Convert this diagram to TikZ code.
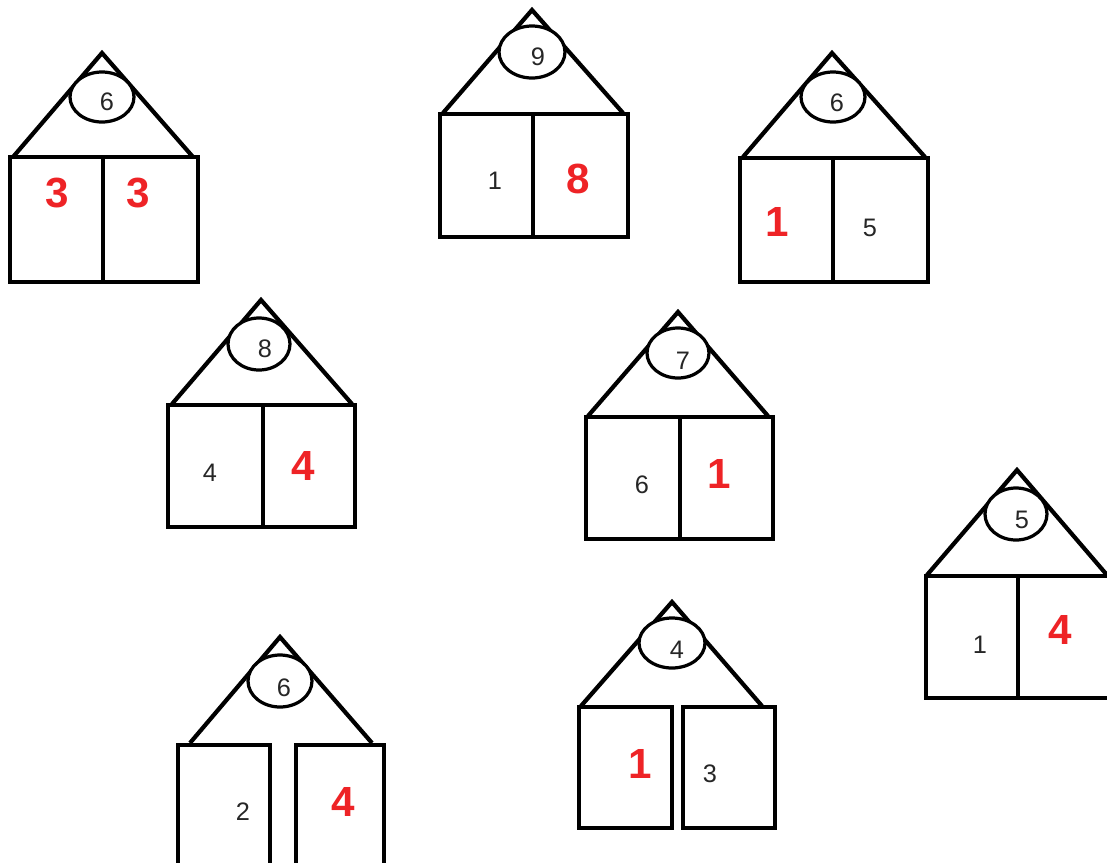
\documentclass[tikz,border=0pt]{standalone}
\usepackage{fontspec}
\setmainfont{Liberation Sans}
\definecolor{answer}{HTML}{EE2326}
\definecolor{given}{HTML}{262626}

\begin{document}
\begin{tikzpicture}[x=0.025cm, y=-0.025cm,
  roof/.style={line width=3pt, line join=miter},
  wall/.style={line width=3.5pt, line join=miter},
  oval/.style={line width=2.3pt, fill=white},
  number/.style={font=\fontsize{18}{18}\selectfont, text=given, inner sep=0pt},
  missing/.style={font=\fontsize{30}{30}\selectfont\bfseries, text=answer, inner sep=0pt}]

  \useasboundingbox (0,0) rectangle (1107,863);
  \clip (0,0) rectangle (1107,863);

  % --- house: 6 = 3 + 3 ---
  \draw[roof] (13,157) -- (102,53) -- (193,157);
  \draw[oval] (102,97) ellipse (32 and 25);
  \node[number] (topA) at (107,102) {6};
  \draw[wall] (10,157) rectangle (198,282) (103,157) -- (103,282);
  \node[missing] (leftA) at (57,193) {3};
  \node[missing] (rightA) at (138,193) {3};

  % --- house: 9 = 1 + 8 ---
  \draw[roof] (443,113) -- (532,10) -- (623,113);
  \draw[oval] (532,52) ellipse (33 and 26);
  \node[number] (topB) at (538,57) {9};
  \draw[wall] (440,114) rectangle (628,237) (533,114) -- (533,237);
  \node[number] (leftB) at (495,181) {1};
  \node[missing] (rightB) at (578,179) {8};

  % --- house: 6 = 1 + 5 ---
  \draw[roof] (743,157) -- (832,53) -- (925,157);
  \draw[oval] (833,97) ellipse (32 and 25);
  \node[number] (topC) at (837,103) {6};
  \draw[wall] (740,158) rectangle (928,282) (833,158) -- (833,282);
  \node[missing] (leftC) at (777,222) {1};
  \node[number] (rightC) at (870,228) {5};

  % --- house: 8 = 4 + 4 ---
  \draw[roof] (172,404) -- (261,300) -- (352,404);
  \draw[oval] (259,344) ellipse (31 and 26);
  \node[number] (topD) at (265,349) {8};
  \draw[wall] (168,405) rectangle (355,527) (263,405) -- (263,527);
  \node[number] (leftD) at (210,473) {4};
  \node[missing] (rightD) at (303,466) {4};

  % --- house: 7 = 6 + 1 ---
  \draw[roof] (588,416) -- (678,312) -- (768,416);
  \draw[oval] (678,353) ellipse (31 and 25);
  \node[number] (topE) at (683,361) {7};
  \draw[wall] (586,417) rectangle (773,539) (680,417) -- (680,539);
  \node[number] (leftE) at (642,485) {6};
  \node[missing] (rightE) at (719,474) {1};

  % --- house: 5 = 1 + 4 ---
  \draw[roof] (927,575) -- (1017,470) -- (1107,575);
  \draw[oval] (1016,514) ellipse (31 and 26);
  \node[number] (topF) at (1022,520) {5};
  \draw[wall] (926,576) rectangle (1112,698) (1018,576) -- (1018,698);
  \node[number] (leftF) at (980,645) {1};
  \node[missing] (rightF) at (1060,630) {4};

  % --- house: 6 = 2 + 4 (split walls) ---
  \draw[roof] (190,743) -- (280,637) -- (372,743);
  \draw[oval] (280,681) ellipse (32 and 26);
  \node[number] (topG) at (284,688) {6};
  \draw[wall] (178,745) rectangle (270,880) (296,745) rectangle (384,880);
  \node[number] (leftG) at (243,812) {2};
  \node[missing] (rightG) at (343,802) {4};

  % --- house: 4 = 1 + 3 (split walls) ---
  \draw[roof] (581,706) -- (672,602) -- (762,706);
  \draw[oval] (672,643) ellipse (33 and 25);
  \node[number] (topH) at (677,650) {4};
  \draw[wall] (579,707) rectangle (672,828) (683,707) rectangle (775,828);
  \node[missing] (leftH) at (640,764) {1};
  \node[number] (rightH) at (710,774) {3};

\end{tikzpicture}
\end{document}
